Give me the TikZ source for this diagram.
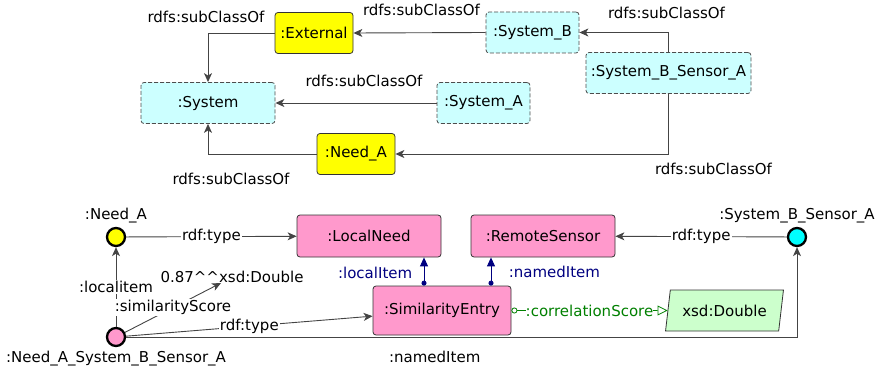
\documentclass[tikz,border=0pt]{standalone}
\usepackage{fontspec}
\setmainfont{DejaVu Sans}
\usetikzlibrary{arrows.meta,shapes.geometric}
\definecolor{pinkc}{HTML}{FF99CC}
\definecolor{cyanl}{HTML}{CCFFFF}
\definecolor{greenl}{HTML}{CCFFCC}
\definecolor{cyanc}{HTML}{00FFFF}
\definecolor{yellowc}{HTML}{FFFF00}
\definecolor{edgec}{HTML}{444444}
\definecolor{navyc}{HTML}{000080}
\definecolor{greenc}{HTML}{008000}
\tikzset{
  every node/.style={font=\fontsize{15}{18}\selectfont},
  box/.style={draw=black!80, line width=0.8pt, rounded corners=3pt, minimum height=41pt, inner sep=2pt},
  yellowbox/.style={box, fill=yellowc},
  dashbox/.style={box, fill=cyanl, draw=black!70, dash pattern=on 4pt off 2pt},
  pinkbox/.style={box, fill=pinkc},
  res/.style={circle, draw=black, line width=2.3pt, minimum size=18pt, inner sep=0pt},
  conn/.style={draw=edgec, line width=0.9pt, -{Stealth[length=9pt,width=8pt,inset=2.5pt]}},
  lbl/.style={fill=white, inner sep=1pt},
  bluearr/.style={draw=navyc, line width=0.9pt, {Circle[length=5pt]}-{Triangle[length=9pt,width=8pt]}},
}
\begin{document}
\begin{tikzpicture}[x=1pt,y=-1pt]
\useasboundingbox (0,0) rectangle (880,374);
% top part
\node[yellowbox, minimum width=78pt] (ext) at (314,33) {:External};
\node[dashbox, minimum width=134pt] (sys) at (208,103) {:System};
\node[dashbox, minimum width=93pt] (sb) at (532.5,32.5) {:System\_B};
\node[dashbox, minimum width=165pt] (sbsa) at (668.5,73) {:System\_B\_Sensor\_A};
\node[dashbox, minimum width=93pt] (sa) at (483.5,103) {:System\_A};
\node[yellowbox, minimum width=78pt] (needA) at (356,154) {:Need\_A};

\draw[conn] (ext.west) -| node[pos=0.5, xshift=-2pt, yshift=16pt] {rdfs:subClassOf} (sys.north);
\draw[conn] (sb.west) -- node[pos=0.5, xshift=2pt, yshift=23pt] {rdfs:subClassOf} (ext.east);
\draw[conn] (sbsa.north) |- node[pos=0.5, xshift=-2pt, yshift=20pt] {rdfs:subClassOf} (sb.east);
\draw[conn] (sa.west) -- node[pos=0.5, xshift=8pt, yshift=22pt] {rdfs:subClassOf} (sys.east);
\draw[conn] (needA.west) -| node[pos=0.5, xshift=23pt, yshift=-25pt] {rdfs:subClassOf} (sys.south);
\draw[conn] (sbsa.south) |- node[pos=0.5, xshift=45pt, yshift=-15pt] {rdfs:subClassOf} (needA.east);

% bottom part
\node[res, fill=yellowc, label={[label distance=0pt]above:{:Need\_A}}] (rA) at (116,237) {};
\node[res, fill=cyanc, label={[label distance=0pt]above:{:System\_B\_Sensor\_A}}] (rS) at (797,237) {};
\node[res, fill=pinkc, label={[label distance=0pt]below:{:Need\_A\_System\_B\_Sensor\_A}}] (rE) at (116,337) {};
\node[pinkbox, minimum width=144pt, minimum height=42pt] (ln) at (369,236) {:LocalNeed};
\node[pinkbox, minimum width=144pt, minimum height=42pt] (rs) at (543,236) {:RemoteSensor};
\node[pinkbox, minimum width=138pt, minimum height=49pt] (se) at (442,310.5) {:SimilarityEntry};
\node[trapezium, trapezium left angle=76, trapezium right angle=104, trapezium stretches=true,
      draw=black!80, line width=0.8pt, fill=greenl, minimum width=119pt, minimum height=41pt, inner sep=2pt] (xd) at (724.5,310.5) {xsd:Double};
\node[inner sep=1pt] (lit) at (232,277) {0.87\textasciicircum\textasciicircum xsd:Double};
\coordinate (litanc) at (221,283);

\draw[conn] (rA) -- node[lbl] {rdf:type} (ln);
\draw[conn] (rS) -- node[lbl] {rdf:type} (rs);
\draw[conn] (rE) -- node[lbl, pos=0.5] {:localitem} (rA);
\draw[conn] (rE) -- node[lbl, pos=0.5] {:similarityScore} (litanc);
\draw[conn] (rE) -- node[lbl, pos=0.5] {rdf:type} (se);
\draw[conn] (rE.east) -| node[pos=0.23, yshift=-20pt] {:namedItem} (rS.south);

\draw[bluearr] (se.north -| ln.south) ++(55,0) coordinate (t1) (t1) -- (t1 |- ln.south)
  node[pos=0.45, anchor=east, text=navyc, xshift=-8pt] {:localItem};
\draw[bluearr] ([xshift=49pt]se.north) -- ([xshift=49pt]se.north |- rs.south)
  node[pos=0.5, anchor=west, text=navyc, xshift=14pt] {:namedItem};
\draw[draw=greenc, line width=0.8pt, {Circle[open,length=6pt]}-{Triangle[open,length=10pt,width=10pt]}]
  (se.east) -- node[fill=white, inner sep=0pt, text=greenc] {:correlationScore} (xd.west);
\end{tikzpicture}
\end{document}
